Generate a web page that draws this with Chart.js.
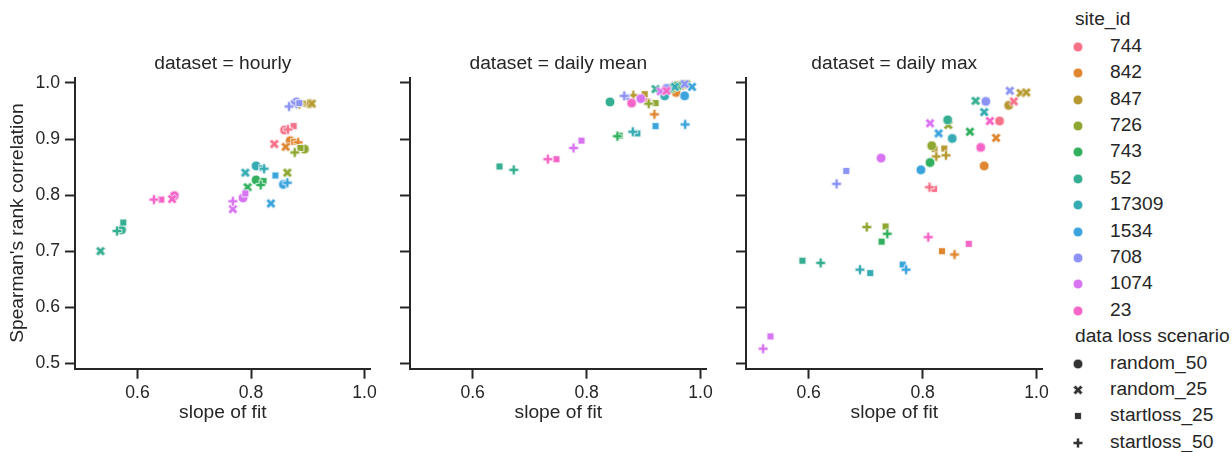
<!DOCTYPE html>
<html><head><meta charset="utf-8">
<script src="https://cdn.jsdelivr.net/npm/chart.js@4"></script>
<style>
html,body{margin:0;padding:0;background:#fff;}
#wrap{position:relative;width:1232px;height:452px;overflow:hidden;font-family:'Liberation Sans',Arial,sans-serif;color:#262626;background:#fff;}
canvas.panel{position:absolute;top:0;}
.lgt{position:absolute;font-size:19.2px;line-height:19.2px;white-space:nowrap;}
canvas.mk{position:absolute;}
</style></head><body>
<div id="wrap">
<canvas id="c0" class="panel" width="381" height="452" style="left:0px;width:381px;height:452px"></canvas>
<canvas id="c1" class="panel" width="327" height="452" style="left:390px;width:327px;height:452px"></canvas>
<canvas id="c2" class="panel" width="327" height="452" style="left:726px;width:327px;height:452px"></canvas>
</div>
<script>
// ---------------- data ----------------
const sites = ['744','842','847','726','743','52','17309','1534','708','1074','23'];
const siteColors = ['#f77189','#df8631','#b69a31','#8ea731','#33b05e','#35ae91','#37abb3','#3ba4dd','#8c93f4','#d874f2','#f565c8'];
const scenarios = ['random_50','random_25','startloss_25','startloss_50'];
const panelTitles = ['dataset = hourly','dataset = daily mean','dataset = daily max'];
const xTicks = [0.6, 0.8, 1.0];
const yTicks = [0.5, 0.6, 0.7, 0.8, 0.9, 1.0];
const xLabel = 'slope of fit';
const yLabel = "Spearman's rank correlation";

// rows: [site, scenario, slope of fit, Spearman's rank correlation]
const hourlyPoints = [
  ['744','random_50',0.859,0.916],['744','random_25',0.841,0.891],['744','startloss_25',0.875,0.923],['744','startloss_50',0.865,0.917],
  ['842','random_50',0.869,0.897],['842','random_25',0.861,0.886],['842','startloss_25',0.876,0.895],['842','startloss_50',0.883,0.894],
  ['847','random_50',0.903,0.963],['847','random_25',0.907,0.963],['847','startloss_25',0.891,0.963],['847','startloss_50',0.885,0.962],
  ['726','random_50',0.894,0.882],['726','random_25',0.864,0.840],['726','startloss_25',0.887,0.884],['726','startloss_50',0.877,0.876],
  ['743','random_50',0.809,0.827],['743','random_25',0.794,0.814],['743','startloss_25',0.822,0.825],['743','startloss_50',0.817,0.818],
  ['52','random_50',0.572,0.738],['52','random_25',0.535,0.700],['52','startloss_25',0.575,0.751],['52','startloss_50',0.564,0.736],
  ['17309','random_50',0.809,0.852],['17309','random_25',0.790,0.840],['17309','startloss_25',0.820,0.848],['17309','startloss_50',0.823,0.847],
  ['1534','random_50',0.857,0.819],['1534','random_25',0.835,0.785],['1534','startloss_25',0.843,0.835],['1534','startloss_50',0.864,0.822],
  ['708','random_50',0.880,0.966],['708','random_25',0.876,0.962],['708','startloss_25',0.885,0.964],['708','startloss_50',0.867,0.958],
  ['1074','random_50',0.786,0.795],['1074','random_25',0.768,0.775],['1074','startloss_25',0.790,0.803],['1074','startloss_50',0.768,0.789],
  ['23','random_50',0.665,0.799],['23','random_25',0.661,0.793],['23','startloss_25',0.642,0.792],['23','startloss_50',0.629,0.792]
];
const dailyMeanPoints = [
  ['744','random_50',0.940,0.990],['744','random_25',0.955,0.995],['744','startloss_25',0.896,0.973],['744','startloss_50',0.905,0.970],
  ['842','random_50',0.957,0.983],['842','random_25',0.965,0.995],['842','startloss_25',0.950,0.990],['842','startloss_50',0.919,0.944],
  ['847','random_50',0.960,0.995],['847','random_25',0.970,0.997],['847','startloss_25',0.902,0.980],['847','startloss_50',0.882,0.978],
  ['726','random_50',0.950,0.990],['726','random_25',0.975,0.998],['726','startloss_25',0.921,0.964],['726','startloss_50',0.909,0.963],
  ['743','random_50',0.945,0.990],['743','random_25',0.960,0.995],['743','startloss_25',0.858,0.906],['743','startloss_50',0.854,0.905],
  ['52','random_50',0.841,0.966],['52','random_25',0.921,0.989],['52','startloss_25',0.647,0.851],['52','startloss_50',0.672,0.845],
  ['17309','random_50',0.937,0.977],['17309','random_25',0.955,0.993],['17309','startloss_25',0.889,0.910],['17309','startloss_50',0.881,0.913],
  ['1534','random_50',0.972,0.977],['1534','random_25',0.985,0.993],['1534','startloss_25',0.921,0.923],['1534','startloss_50',0.973,0.926],
  ['708','random_50',0.940,0.990],['708','random_25',0.972,0.998],['708','startloss_25',0.870,0.975],['708','startloss_50',0.866,0.977],
  ['1074','random_50',0.895,0.972],['1074','random_25',0.930,0.985],['1074','startloss_25',0.791,0.897],['1074','startloss_50',0.777,0.884],
  ['23','random_50',0.879,0.964],['23','random_25',0.940,0.986],['23','startloss_25',0.747,0.864],['23','startloss_50',0.732,0.864]
];
const dailyMaxPoints = [
  ['744','random_50',0.935,0.932],['744','startloss_25',0.820,0.811],['744','startloss_50',0.812,0.814],
  ['842','random_50',0.908,0.852],['842','random_25',0.929,0.902],['842','startloss_25',0.834,0.700],['842','startloss_50',0.856,0.694],
  ['847','random_50',0.951,0.960],['847','random_25',0.972,0.982],['847','startloss_25',0.821,0.882],['847','startloss_50',0.824,0.869],
  ['847','random_25',0.982,0.983],['847','startloss_25',0.838,0.883],['847','startloss_50',0.841,0.871],
  ['744','random_25',0.960,0.967],
  ['726','random_50',0.816,0.888],['726','random_25',0.845,0.925],['726','startloss_25',0.735,0.744],['726','startloss_50',0.702,0.743],
  ['743','random_50',0.813,0.858],['743','random_25',0.883,0.913],['743','startloss_25',0.728,0.717],['743','startloss_50',0.738,0.731],
  ['52','random_50',0.844,0.934],['52','random_25',0.893,0.968],['52','startloss_25',0.589,0.683],['52','startloss_50',0.621,0.679],
  ['17309','random_50',0.852,0.901],['17309','random_25',0.908,0.948],['17309','startloss_25',0.708,0.661],['17309','startloss_50',0.690,0.667],
  ['1534','random_50',0.797,0.845],['1534','random_25',0.828,0.910],['1534','startloss_25',0.765,0.676],['1534','startloss_50',0.771,0.667],
  ['708','random_50',0.911,0.967],['708','random_25',0.953,0.986],['708','startloss_25',0.666,0.843],['708','startloss_50',0.649,0.820],
  ['1074','random_50',0.727,0.866],['1074','random_25',0.813,0.928],['1074','startloss_25',0.533,0.548],['1074','startloss_50',0.520,0.526],
  ['23','random_50',0.902,0.885],['23','random_25',0.918,0.932],['23','startloss_25',0.881,0.713],['23','startloss_50',0.810,0.725]
];
const panelPoints = [hourlyPoints, dailyMeanPoints, dailyMaxPoints];

// ---------------- markers ----------------
const INK = '#262626';
const MS = 9.8; // marker size in px
function markerPath(ctx, scen) {
  ctx.beginPath();
  if (scen === 'random_50') {
    ctx.arc(0, 0, MS / 2, 0, Math.PI * 2);
  } else {
    let pts;
    if (scen === 'random_25') {
      pts = [[-1,-2],[0,-1],[1,-2],[2,-1],[1,0],[2,1],[1,2],[0,1],[-1,2],[-2,1],[-1,0],[-2,-1]].map(p => [p[0]*MS/4, p[1]*MS/4]);
    } else if (scen === 'startloss_50') {
      pts = [[-1,-3],[1,-3],[1,-1],[3,-1],[3,1],[1,1],[1,3],[-1,3],[-1,1],[-3,1],[-3,-1],[-1,-1]].map(p => [p[0]*MS/6, p[1]*MS/6]);
    } else {
      const h = MS / 2 / Math.SQRT2;
      pts = [[-h,-h],[h,-h],[h,h],[-h,h]];
    }
    ctx.moveTo(pts[0][0], pts[0][1]);
    for (let i = 1; i < pts.length; i++) ctx.lineTo(pts[i][0], pts[i][1]);
  }
  ctx.closePath();
}
const markerCache = {};
function makeMarker(color, scen) {
  const key = color + scen;
  if (markerCache[key]) return markerCache[key];
  const c = document.createElement('canvas');
  c.width = 16; c.height = 16;
  const ctx = c.getContext('2d');
  ctx.translate(8, 8);
  markerPath(ctx, scen);
  ctx.fillStyle = color;
  ctx.fill();
  ctx.lineWidth = 0.77;
  ctx.strokeStyle = '#ffffff';
  ctx.lineJoin = 'miter';
  ctx.stroke();
  markerCache[key] = c;
  return c;
}

// ---------------- charts ----------------
Chart.defaults.font.family = "'Liberation Sans', Arial, sans-serif";
Chart.defaults.color = INK;

function buildChart(idx) {
  const first = idx === 0;
  const pts = panelPoints[idx];
  return new Chart(document.getElementById('c' + idx), {
    type: 'scatter',
    data: {
      datasets: [{
        data: pts.map(p => ({ x: p[2], y: p[3], site: p[0], scen: p[1] })),
        pointRadius: 5,
        pointStyle: (ctx) => {
          const r = ctx.raw;
          if (!r) return 'circle';
          return makeMarker(siteColors[sites.indexOf(r.site)], r.scen);
        },
        clip: false
      }]
    },
    options: {
      responsive: false,
      animation: false,
      events: [],
      layout: { padding: { left: 0, right: 8, top: 0, bottom: 0 } },
      plugins: {
        legend: { display: false },
        tooltip: { enabled: false },
        title: {
          display: true, text: panelTitles[idx], fullSize: false,
          font: { size: 19.2, weight: 'normal' }, color: INK,
          padding: { top: 52.6, bottom: 1.9 }
        }
      },
      scales: {
        x: {
          type: 'linear', min: 0.49, max: 1.0105,
          afterBuildTicks: (s) => { s.ticks = xTicks.map(v => ({ value: v })); },
          afterFit: (s) => { s.height = 83.3; },
          ticks: { font: { size: 17.6 }, color: INK, padding: 4, maxRotation: 0, autoSkip: false, callback: (v) => Number(v).toFixed(1) },
          grid: { drawOnChartArea: false, drawTicks: true, tickLength: 10, tickWidth: 2, tickColor: INK },
          border: { display: true, color: INK, width: 2 },
          title: { display: true, text: xLabel, font: { size: 19.2 }, color: INK, padding: { top: 0, bottom: 28.2 } }
        },
        y: {
          type: 'linear', min: 0.4904, max: 1.0096,
          afterBuildTicks: (s) => { s.ticks = yTicks.map(v => ({ value: v })); },
          afterFit: (s) => { s.width = first ? 75 : 20; },
          ticks: { font: { size: 17.6 }, color: INK, padding: 5, autoSkip: false, callback: (v) => first ? Number(v).toFixed(1) : '' },
          grid: { drawOnChartArea: false, drawTicks: true, tickLength: 10, tickWidth: 2, tickColor: INK },
          border: { display: true, color: INK, width: 2 },
          title: { display: first, text: yLabel, font: { size: 19.2 }, color: INK, padding: { top: 6.3, bottom: 0 } }
        }
      }
    }
  });
}
[0, 1, 2].forEach(buildChart);

// ---------------- legend ----------------
const wrap = document.getElementById('wrap');
const rowY = (k) => 20.3 + 26.4 * k;
function addText(txt, left, k) {
  const d = document.createElement('div');
  d.className = 'lgt';
  d.textContent = txt;
  d.style.left = left + 'px';
  d.style.top = (rowY(k) - 10.9) + 'px';
  wrap.appendChild(d);
}
function addMarker(color, scen, k) {
  const src = makeMarker(color, scen);
  const c = document.createElement('canvas');
  c.className = 'mk';
  c.width = 16; c.height = 16;
  c.style.left = (1078.3 - 8) + 'px';
  c.style.top = (rowY(k) - 8) + 'px';
  c.getContext('2d').drawImage(src, 0, 0);
  wrap.appendChild(c);
}
addText('site_id', 1075, 0);
sites.forEach((s, i) => { addMarker(siteColors[i], 'random_50', i + 1); addText(s, 1110, i + 1); });
addText('data loss scenario', 1075, 12);
scenarios.forEach((s, i) => { addMarker('#333333', s, 13 + i); addText(s, 1110, 13 + i); });
</script>
</body></html>
